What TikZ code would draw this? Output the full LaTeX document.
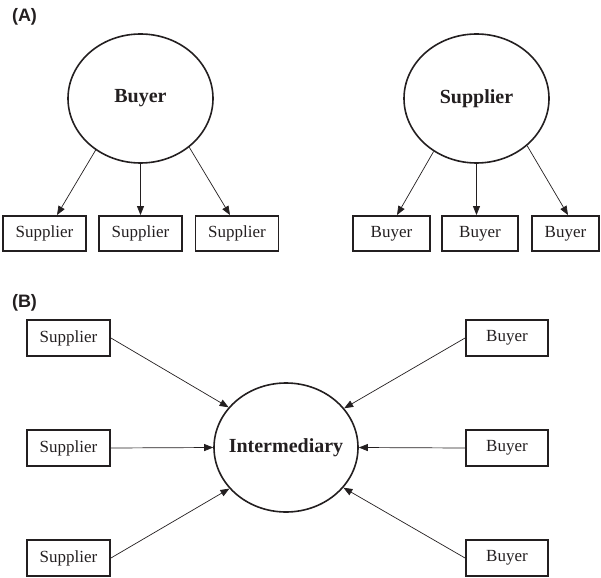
\documentclass[tikz,border=0pt]{standalone}
\usepackage{fontspec}
\setmainfont{Liberation Serif}
\newfontfamily\panelfont{Liberation Sans}
\usetikzlibrary{shapes.geometric,arrows.meta,calc}
\definecolor{ink}{RGB}{35,31,32}
\begin{document}
\begin{tikzpicture}[x=1pt,y=-1pt,color=ink,
  oval/.style={draw,ellipse,line width=1.6pt,minimum width=145pt,minimum height=129pt,inner sep=0pt},
  ovaltext/.style={font=\fontsize{20}{24}\selectfont\bfseries},
  box/.style={draw,line width=1.9pt,minimum width=83pt,minimum height=35pt,inner sep=0pt,font=\fontsize{17}{20}\selectfont},
  arr/.style={line width=0.7pt,-{Triangle[length=9pt,width=7pt]}},
  panel/.style={font=\panelfont\fontsize{18}{21}\selectfont\bfseries}]
\useasboundingbox (0,0) rectangle (601,577);
% Panel A
\node[panel] (la) at (24.5,16.5) {(A)};
\node[oval] (buyer) at (140.5,98.5) {};
\node[ovaltext] (buyert) at (buyer.center) {Buyer};
\node[box] (b1) at (44.5,233.5) {Supplier};
\node[box] (b2) at (140.5,233.5) {Supplier};
\node[box] (b3) at (237,233.5) {Supplier};
\draw[arr] (buyer.-131) -- ($(b1.north)+(12.5,0)$);
\draw[arr] (buyer.south) -- (b2.north);
\draw[arr] (buyer.-45) -- ($(b3.north)+(-7,0)$);
\node[oval] (sup) at (476.5,98.5) {};
\node[ovaltext] (supt) at (sup.center) {Supplier};
\node[box,minimum width=77pt] (s1) at (391.5,233.5) {Buyer};
\node[box,minimum width=76pt] (s2) at (480,233.5) {Buyer};
\node[box,minimum width=67pt] (s3) at (565.5,233.5) {Buyer};
\draw[arr] (sup.-129) -- ($(s1.north)+(5.5,0)$);
\draw[arr] (sup.south) -- (sup.south |- s2.north);
\draw[arr] (sup.-43) -- ($(s3.north)+(2.5,0)$);
% Panel B
\node[panel] (lb) at (24.5,302.5) {(B)};
\node[oval,minimum width=144pt] (inter) at (286,447.5) {};
\node[ovaltext] (intert) at (inter.center) {Intermediary};
\node[box,minimum height=36pt] (l1) at (68.5,338) {Supplier};
\node[box,minimum height=36pt] (l2) at (68.5,448) {Supplier};
\node[box,minimum height=36pt] (l3) at (68.5,558) {Supplier};
\node[box,minimum width=82pt,minimum height=36pt] (r1) at (507,338) {Buyer};
\node[box,minimum width=82pt,minimum height=36pt] (r2) at (507,448) {Buyer};
\node[box,minimum width=82pt,minimum height=36pt] (r3) at (507,558) {Buyer};
\draw[arr] (l1.east) -- (inter.145);
\draw[arr] (l2.east) -- (inter.west);
\draw[arr] (l3.east) -- (inter.-144);
\draw[arr] (r1.west) -- (inter.34);
\draw[arr] (r2.west) -- (inter.east);
\draw[arr] (r3.west) -- (inter.-35);
\end{tikzpicture}
\end{document}
